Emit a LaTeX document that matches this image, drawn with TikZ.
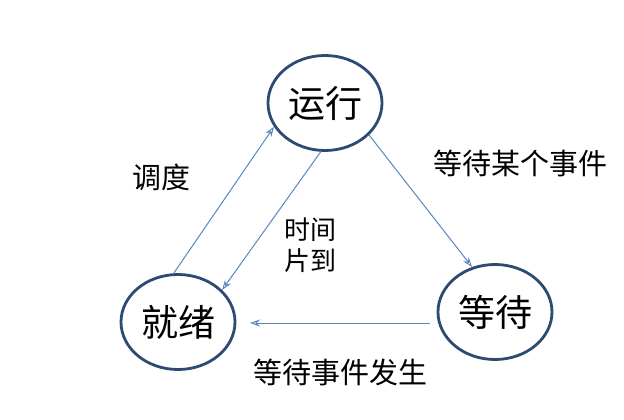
\documentclass[tikz,border=0pt]{standalone}
\usepackage{fontspec}
\setmainfont{Noto Sans CJK SC}
\usetikzlibrary{shapes.geometric,arrows.meta}
\definecolor{rim}{HTML}{2C4A72}
\definecolor{arr}{HTML}{5A86BE}
\begin{document}
\begin{tikzpicture}[x=1pt,y=-1pt,
  state/.style={ellipse,draw=rim,line width=2.8pt,minimum width=114pt,minimum height=95pt,inner sep=0pt,font=\fontsize{37}{40}\selectfont},
  conn/.style={draw=arr,line width=1pt,-{Stealth[length=10pt,width=7pt,open]}},
  lbl/.style={font=\fontsize{29}{34}\selectfont,align=center}]
\useasboundingbox (0,0) rectangle (624,420);
\node[state] (yx) at (325,103) {运行};
\node[state] (jx) at (178,322) {就绪};
\node[state] (dd) at (495,312) {等待};
\coordinate (a) at (430,323);
\coordinate (b) at (250,323);
\draw[conn] (jx.95) -- (yx.205);
\draw[conn] (yx.265) -- (jx.36);
\draw[conn] (yx.324) -- (dd.117);
\draw[conn] (a) -- (b);
\node[lbl] (l1) at (161,177) {调度};
\node[lbl,font=\fontsize{26}{31}\selectfont] (l2) at (310,245) {时间\\片到};
\node[lbl] (l3) at (520,163) {等待某个事件};
\node[lbl] (l4) at (340,372) {等待事件发生};
\end{tikzpicture}
\end{document}
